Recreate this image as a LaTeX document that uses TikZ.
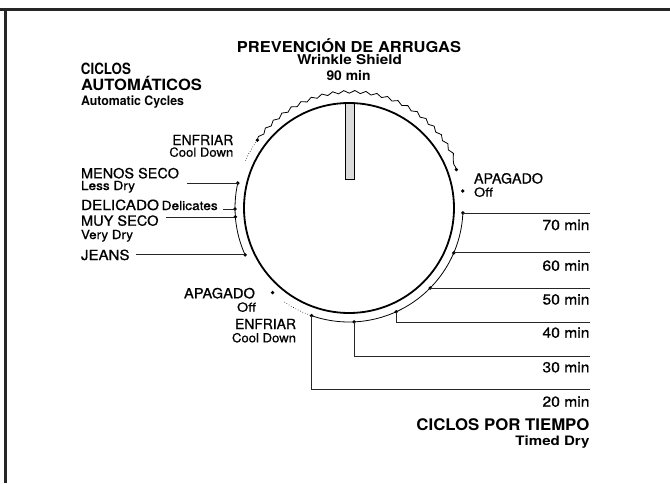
\documentclass[tikz,border=0pt]{standalone}
\usepackage{fontspec}
\setmainfont{TeX Gyre Heros}
\newfontfamily\md[RawFeature={embolden=0.7}]{TeX Gyre Heros}
\usepackage{graphicx}
\usetikzlibrary{decorations.pathmorphing}
\newcommand{\fw}[2]{\resizebox{#1pt}{\height}{#2}}
\newcommand{\rs}[1]{\fontsize{#1}{#1}\selectfont}
\tikzset{
 lbl/.style={inner sep=0pt, outer sep=0pt, text=black},
 dot/.style={circle, fill=black, inner sep=0pt, minimum size=3.8pt},
 leader/.style={line width=0.9pt, black!85},
 ring/.style={line width=0.8pt},
 frame/.style={line width=2.6pt, black!85},
}
\begin{document}
\begin{tikzpicture}[x=1pt,y=1pt]
\fill[white] (0,0) rectangle (670,-483);
\useasboundingbox (0,0) rectangle (670,-483);
% frame
\draw[frame] (0,-9.5) -- (670,-9.5);
\draw[frame] (5.3,-9.5) -- (5.3,-483);

\coordinate (c) at (349,-208);
\coordinate (R) at (590,0);
\coordinate (lMenos) at (187,0);
\coordinate (lDel) at (223,0);
\coordinate (lMuy) at (166,0);
\coordinate (lJeans) at (136,0);
\coordinate (r40) at (590,-322);
\coordinate (r30) at (590,-356);
\coordinate (r20) at (590,-389);

% indicator and dial
\draw[line width=0.8pt, fill=black!14] (345,-103) rectangle (354,-179);
\draw[line width=1.8pt] (c) circle[radius=105pt];

% outer rings
\draw[ring, decorate, decoration={snake, amplitude=1.4pt, segment length=11pt}]
  (c) ++(143.5:114pt) arc[start angle=143.5, end angle=19.7, radius=114pt];
\draw[line width=0.6pt, dotted] (c) ++(143.5:114pt) arc[start angle=143.5, end angle=155.5, radius=114pt];
\draw[ring] (c) ++(167.4:114pt) arc[start angle=167.4, end angle=204.3, radius=114pt];
\draw[line width=0.6pt, dotted] (c) ++(235.5:114pt) arc[start angle=235.5, end angle=250.8, radius=114pt];
\draw[ring] (c) ++(-109.2:114pt) arc[start angle=-109.2, end angle=-2.5, radius=114pt];

% dots
\path (c) ++(143.5:114pt) node[dot] (dEnfTop) {};
\path (c) ++(19.7:114pt) node[dot] (dWavy) {};
\path (c) ++(8.5:115pt) node[dot] (dOffR) {};
\path (c) ++(-2.5:114pt) node[dot] (d70) {};
\path (c) ++(-23.2:114pt) node[dot] (d60) {};
\path (c) ++(-44.6:114pt) node[dot] (d50) {};
\path (c) ++(-65.5:114pt) node[dot] (d40) {};
\path (c) ++(-87.4:114pt) node[dot] (d30) {};
\path (c) ++(-109.2:114pt) node[dot] (d20) {};
\path (c) ++(227.9:114pt) node[dot] (dOffL) {};
\path (c) ++(167.4:114pt) node[dot] (dMenos) {};
\path (c) ++(180.5:114pt) node[dot] (dDel) {};
\path (c) ++(184.5:114pt) node[dot] (dMuy) {};
\path (c) ++(204.3:114pt) node[dot] (dJeans) {};

% leaders right
\draw[leader] (d70.center) -- (d70 -| R);
\draw[leader] (d60.center) -- (d60 -| R);
\draw[leader] (d50.center) -- (d50 -| R);
\draw[leader] (d40.center) |- (r40);
\draw[leader] (d30.center) |- (r30);
\draw[leader] (d20.center) |- (r20);
% leaders left
\draw[leader] (dMenos.center) -- (dMenos -| lMenos);
\draw[leader] (dDel.center) -- (dDel -| lDel);
\draw[leader] (dMuy.center) -- (dMuy -| lMuy);
\draw[leader] (dJeans.center) -- (dJeans -| lJeans);

% top labels
\node[lbl, anchor=base] (tPrev) at (349,-52) {\bfseries\rs{15}\fw{224}{PREVENCIÓN DE ARRUGAS}};
\node[lbl, anchor=base] (tWrink) at (349.5,-64.5) {\bfseries\rs{13.5}\fw{105}{Wrinkle Shield}};
\node[lbl, anchor=base] (t90) at (348.5,-80.7) {\bfseries\rs{13.5}\fw{44}{90 min}};

% automatic cycles header
\node[lbl, anchor=base west] (tCic) at (81,-74.5) {\bfseries\rs{15.5}\fw{50}{CICLOS}};
\node[lbl, anchor=base west] (tAuto) at (81,-90.5) {\bfseries\rs{15.5}\fw{121}{AUTOMÁTICOS}};
\node[lbl, anchor=base west] (tAutoE) at (81,-105) {\bfseries\rs{13}\fw{103}{Automatic Cycles}};

% left labels
\node[lbl, anchor=base east] (tEnfT) at (233.3,-145) {\md\rs{14}\fw{61}{ENFRIAR}};
\node[lbl, anchor=base east] (tCoolT) at (233.3,-156.7) {\md\rs{12.5}\fw{64}{Cool Down}};
\node[lbl, anchor=base west] (tMenos) at (81,-178.3) {\md\rs{14}\fw{98}{MENOS SECO}};
\node[lbl, anchor=base west] (tLess) at (81,-190) {\md\rs{12.5}\fw{54}{Less Dry}};
\node[lbl, anchor=base west] (tDel) at (81,-210) {\md\rs{14}\fw{78}{DELICADO}};
\node[lbl, anchor=base west] (tDelE) at (161.7,-210) {\md\rs{12.5}\fw{56}{Delicates}};
\node[lbl, anchor=base west] (tMuy) at (81,-225.7) {\md\rs{14}\fw{77.5}{MUY SECO}};
\node[lbl, anchor=base west] (tVery) at (81,-239) {\md\rs{12.5}\fw{52}{Very Dry}};
\node[lbl, anchor=base west] (tJeans) at (81,-260) {\md\rs{14}\fw{48.5}{JEANS}};

% right off
\node[lbl, anchor=base west] (tApaR) at (474,-183.5) {\md\rs{14}\fw{69}{APAGADO}};
\node[lbl, anchor=base west] (tOffR) at (474,-196.7) {\md\rs{12.5}\fw{19}{Off}};

% lower left
\node[lbl, anchor=base east] (tApaL) at (255,-298.3) {\md\rs{14}\fw{71}{APAGADO}};
\node[lbl, anchor=base east] (tOffL) at (256,-311.7) {\md\rs{12.5}\fw{19}{Off}};
\node[lbl, anchor=base east] (tEnfB) at (296,-329) {\md\rs{14}\fw{61}{ENFRIAR}};
\node[lbl, anchor=base east] (tCoolB) at (296,-342.3) {\md\rs{12.5}\fw{64}{Cool Down}};

% minutes
\node[lbl, anchor=base east] (t70) at (589.5,-230) {\md\rs{14.5}\fw{47}{70 min}};
\node[lbl, anchor=base east] (t60) at (589.5,-270.7) {\md\rs{14.5}\fw{47}{60 min}};
\node[lbl, anchor=base east] (t50) at (589.5,-304.5) {\md\rs{14.5}\fw{47}{50 min}};
\node[lbl, anchor=base east] (t40) at (589.5,-337.7) {\md\rs{14.5}\fw{47}{40 min}};
\node[lbl, anchor=base east] (t30) at (589.5,-372.3) {\md\rs{14.5}\fw{47}{30 min}};
\node[lbl, anchor=base east] (t20) at (589.5,-406.7) {\md\rs{14.5}\fw{47}{20 min}};
\node[lbl, anchor=base east] (tTimed) at (589.5,-430) {\bfseries\rs{16}\fw{173}{CICLOS POR TIEMPO}};
\node[lbl, anchor=base east] (tTimedE) at (589.5,-445) {\bfseries\rs{13}\fw{74}{Timed Dry}};
\end{tikzpicture}
\end{document}
